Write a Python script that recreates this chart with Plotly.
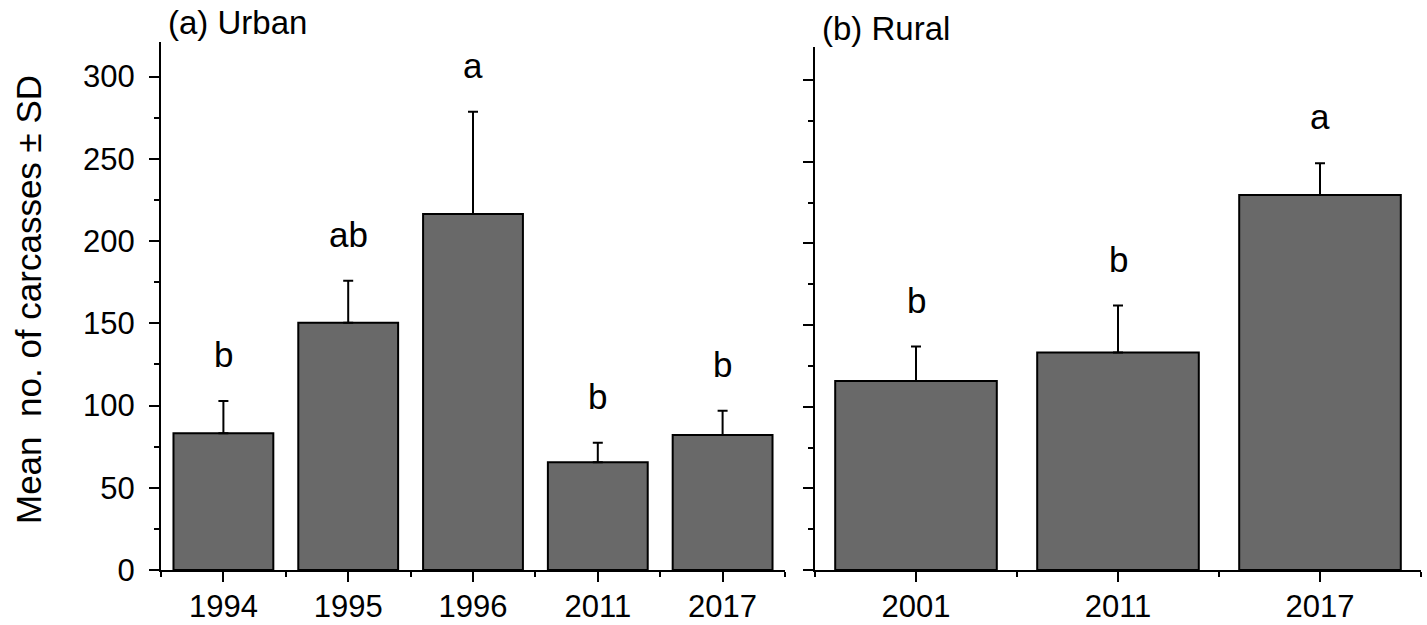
import plotly.graph_objects as go

# ---- data ----
urban_years = ["1994", "1995", "1996", "2011", "2017"]
urban_mean = [83.1, 150.3, 216.4, 65.5, 82.1]
urban_sd = [19.6, 25.6, 62.2, 11.9, 14.7]
urban_letters = ["b", "ab", "a", "b", "b"]

rural_years = ["2001", "2011", "2017"]
rural_mean = [115.7, 133.1, 229.6]
rural_sd = [21.1, 28.8, 19.4]
rural_letters = ["b", "b", "a"]

y_ticks = [0, 50, 100, 150, 200, 250, 300]

W, H = 1427, 625
FONT = "Liberation Sans, Arial, sans-serif"
BAR_COLOR = "#696969"


def px_x(p):
    return p / W


def px_y(p):
    return 1 - p / H


fig = go.Figure()


def add_panel(years, mean, sd, xref, yref):
    xs = list(range(len(years)))
    fig.add_trace(go.Bar(
        x=xs, y=mean, width=0.8,
        marker=dict(color=BAR_COLOR, line=dict(color="black", width=2)),
        error_y=dict(type="data", array=sd, arrayminus=[0] * len(sd), symmetric=False,
                     color="black", thickness=2, width=5),
        xaxis=xref, yaxis=yref, showlegend=False, hoverinfo="skip",
    ))


add_panel(urban_years, urban_mean, urban_sd, "x", "y")
add_panel(rural_years, rural_mean, rural_sd, "x2", "y2")

axis_common = dict(
    showline=True, linecolor="black", linewidth=2, mirror=False, automargin=False,
    showgrid=False, zeroline=False, ticks="outside", tickwidth=2,
    tickcolor="black", tickfont=dict(family=FONT, size=31, color="black"),
)
x_minor = dict(tick0=-0.5, dtick=1, ticks="outside", ticklen=5, tickwidth=2, tickcolor="black")
y_minor = dict(tick0=0, dtick=25, ticks="outside", ticklen=5, tickwidth=2, tickcolor="black")

fig.update_layout(
    width=W, height=H,
    margin=dict(l=0, r=0, t=0, b=0, autoexpand=False),
    paper_bgcolor="white", plot_bgcolor="white",
    xaxis=dict(domain=[px_x(161), px_x(785)], range=[-0.5, len(urban_years) - 0.5],
               tickvals=list(range(len(urban_years))), ticktext=urban_years,
               ticklen=10, ticklabelstandoff=-2, minor=x_minor, anchor="y", **axis_common),
    yaxis=dict(domain=[px_y(570), px_y(42)], range=[0, 321], tickvals=y_ticks,
               ticklen=10, ticklabelstandoff=8, minor=y_minor, anchor="x", **axis_common),
    xaxis2=dict(domain=[px_x(815), px_x(1421)], range=[-0.5, len(rural_years) - 0.5],
                tickvals=list(range(len(rural_years))), ticktext=rural_years,
                ticklen=10, ticklabelstandoff=-2, minor=x_minor, anchor="y2", **axis_common),
    yaxis2=dict(domain=[px_y(570), px_y(46.7)], range=[0, 320.4], tickvals=y_ticks,
                showticklabels=False, ticklen=10, minor=y_minor, anchor="x2", **axis_common),
)

annotations = []
for i, (m, s, t) in enumerate(zip(urban_mean, urban_sd, urban_letters)):
    annotations.append(dict(x=i, y=m + s, xref="x", yref="y", text=t, showarrow=False,
                            yanchor="bottom", yshift=25,
                            font=dict(family=FONT, size=35, color="black")))
for i, (m, s, t) in enumerate(zip(rural_mean, rural_sd, rural_letters)):
    annotations.append(dict(x=i, y=m + s, xref="x2", yref="y2", text=t, showarrow=False,
                            yanchor="bottom", yshift=25,
                            font=dict(family=FONT, size=35, color="black")))

annotations.append(dict(x=px_x(166), y=px_y(22), xref="paper", yref="paper",
                        text="(a) Urban", showarrow=False, xanchor="left", yanchor="middle",
                        font=dict(family=FONT, size=33, color="black")))
annotations.append(dict(x=px_x(820), y=px_y(29), xref="paper", yref="paper",
                        text="(b) Rural", showarrow=False, xanchor="left", yanchor="middle",
                        font=dict(family=FONT, size=33, color="black")))
annotations.append(dict(x=px_x(28), y=px_y(300), xref="paper", yref="paper",
                        text="Mean\u00a0 no. of carcasses ± SD", textangle=-90, showarrow=False,
                        xanchor="center", yanchor="middle",
                        font=dict(family=FONT, size=35, color="black")))

fig.update_layout(annotations=annotations)

# remove the default 8px body margin so the figure fills the 1427x625 window exactly
fig.write_html("out.html",
               config={"displayModeBar": False, "staticPlot": True},
               post_script="document.body.style.margin='0';document.body.style.padding='0';"
                           "document.body.style.overflow='hidden';")
